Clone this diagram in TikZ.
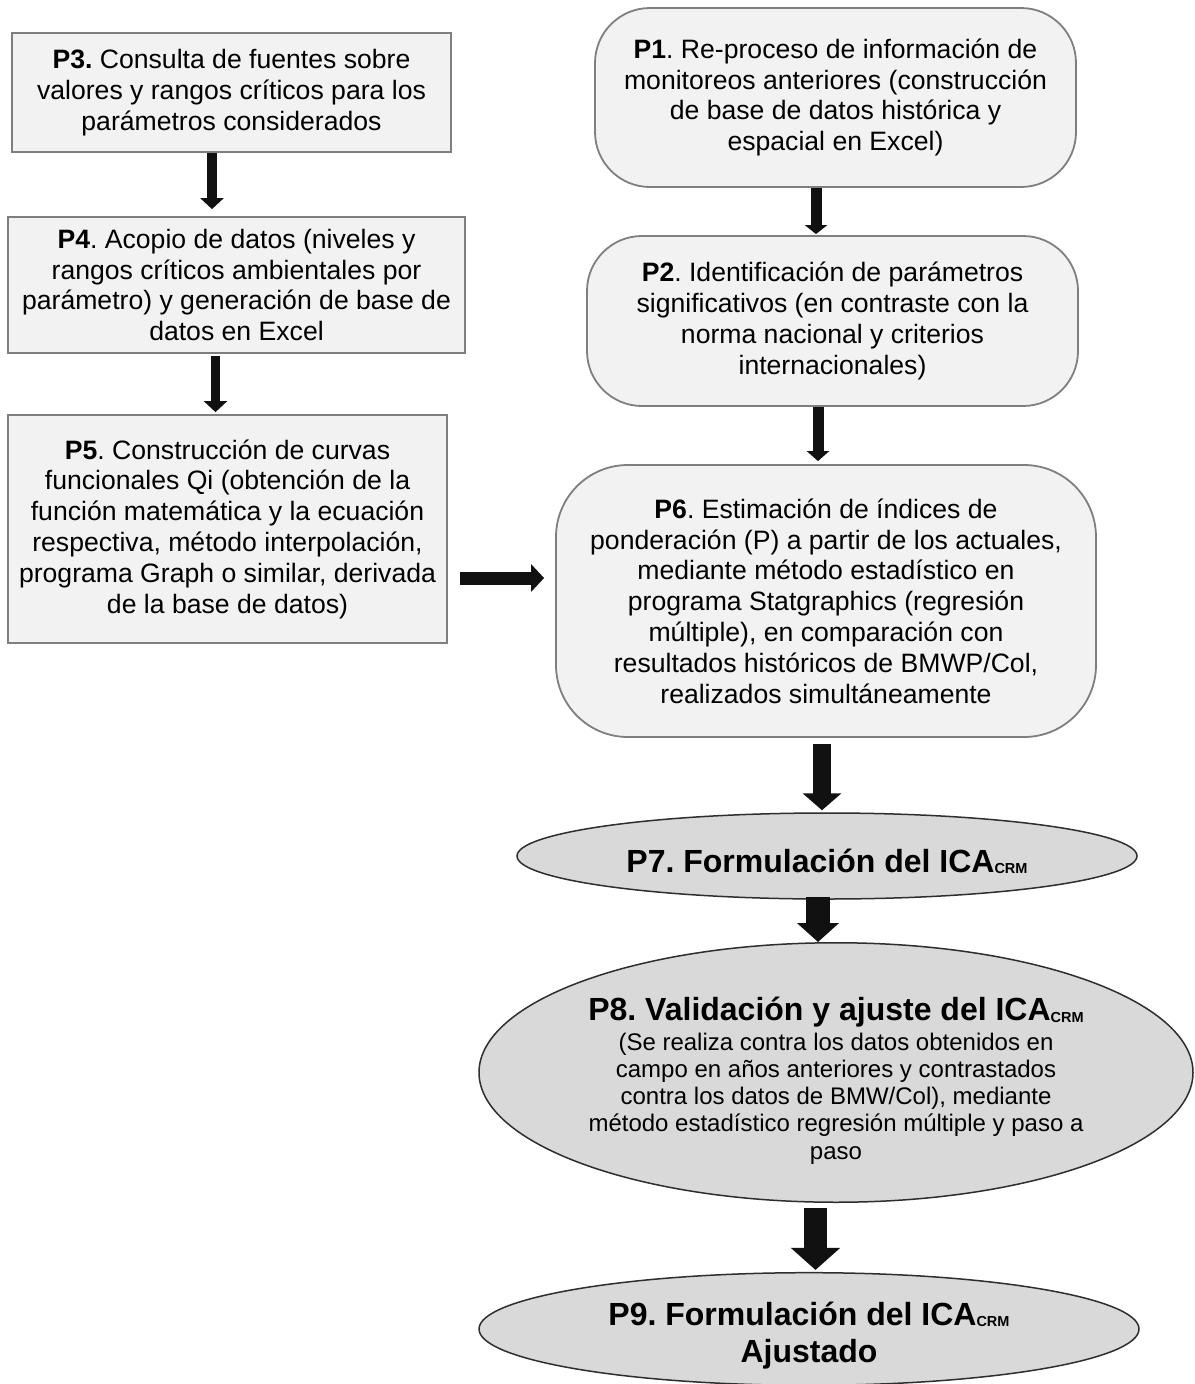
\documentclass[tikz,border=0pt]{standalone}
\usepackage{fontspec}
\setmainfont{Liberation Sans}
\usetikzlibrary{shapes.geometric,arrows.meta}
\definecolor{boxfill}{HTML}{F2F2F2}
\definecolor{boxline}{HTML}{7F7F7F}
\definecolor{ellfill}{HTML}{D9D9D9}
\definecolor{ellline}{HTML}{2E2E2E}
\definecolor{arr}{HTML}{111111}
\newcommand{\crm}{\raisebox{-1.5pt}{\fontsize{14.5}{14.5}\selectfont CRM}}
\frenchspacing
\tikzset{
  sqbox/.style={draw=boxline, line width=1.8pt, fill=boxfill, rectangle, align=center, inner sep=0pt,
    font=\fontsize{26.6}{30.8}\selectfont},
  rdbox/.style={sqbox, rounded corners=55pt},
  ellbox/.style={draw=ellline, line width=1.5pt, fill=ellfill, ellipse, align=center, inner sep=0pt},
  titlefont/.style={font=\fontsize{32}{37}\selectfont\bfseries},
}
\begin{document}
\begin{tikzpicture}[x=1pt,y=-1pt]
\useasboundingbox[fill=white] (0,0) rectangle (1194,1384);
\coordinate (harr) at (0,578);
% left column
\node[sqbox, minimum width=439pt, minimum height=119pt] (p3) at (231.5,92.5)
  {\textbf{P3.} Consulta de fuentes sobre\\valores y rangos críticos para los\\parámetros considerados};
\node[sqbox, minimum width=457pt, minimum height=136pt] (p4) at (236.5,285)
  {\textbf{P4}. Acopio de datos (niveles y\\rangos críticos ambientales por\\parámetro) y generación de base de\\datos en Excel};
\node[sqbox, minimum width=439pt, minimum height=228pt] (p5) at (227.5,529)
  {\textbf{P5}. Construcción de curvas\\funcionales Qi (obtención de la\\función matemática y la ecuación\\respectiva, método interpolación,\\programa Graph o similar, derivada\\de la base de datos)};
% right column
\node[rdbox, minimum width=481pt, minimum height=179pt] (p1) at (835.5,97.5)
  {\textbf{P1}. Re-proceso de información de\\monitoreos anteriores (construcción\\de base de datos histórica y\\espacial en Excel)};
\node[rdbox, minimum width=491pt, minimum height=170pt] (p2) at (832.5,321)
  {\textbf{P2}. Identificación de parámetros\\significativos (en contraste con la\\norma nacional y criterios\\internacionales)};
\node[rdbox, rounded corners=72pt, minimum width=540pt, minimum height=272pt] (p6) at (826,601)
  {\textbf{P6}. Estimación de índices de\\ponderación (P) a partir de los actuales,\\mediante método estadístico en\\programa Statgraphics (regresión\\múltiple), en comparación con\\resultados históricos de BMWP/Col,\\realizados simultáneamente};
% ellipses
\node[ellbox, titlefont, minimum width=620pt, minimum height=86pt] (p7) at (827,856)
  {\rule{0pt}{34pt}P7. Formulación del ICA\crm};
\node[ellbox, font=\fontsize{24}{27.3}\selectfont, minimum width=714pt, minimum height=249pt] (p8) at (836,1072.5)
  {{\fontsize{32}{37}\selectfont\bfseries\rule{0pt}{40pt}P8. Validación y ajuste del ICA\crm}\\[2pt]
   (Se realiza contra los datos obtenidos en\\campo en años anteriores y contrastados\\contra los datos de BMW/Col), mediante\\método estadístico regresión múltiple y paso a\\paso};
\node[ellbox, titlefont, minimum width=660pt, minimum height=110pt] (p9) at (809,1329)
  {\rule{0pt}{36pt}P9. Formulación del ICA\crm\\Ajustado};
% connectors
\draw[draw=arr, line width=10pt, -{Triangle[width=23pt,length=11pt]}, shorten >=7pt]
  (p3.south -| 212,0) -- (p4.north -| 212,0);
\draw[draw=arr, line width=9.5pt, -{Triangle[width=23pt,length=11pt]}, shorten <=2pt, shorten >=2pt]
  (p4.south -| 215.5,0) -- (p5.north -| 215.5,0);
\draw[draw=arr, line width=11pt, -{Triangle[width=22pt,length=9pt]}, shorten >=1pt]
  (p1.south -| 816,0) -- (p2.north -| 816,0);
\draw[draw=arr, line width=11pt, -{Triangle[width=22pt,length=10pt]}, shorten >=3pt]
  (p2.south -| 818,0) -- (p6.north -| 818,0);
\draw[draw=arr, line width=13pt, -{Triangle[width=27pt,length=13pt]}, shorten <=12pt, shorten >=11pt]
  (p5.east |- harr) -- (p6.west |- harr);
\draw[draw=arr, line width=18pt, -{Triangle[width=38pt,length=17pt]}, shorten <=6pt, shorten >=2pt]
  (p6.south -| 822,0) -- (p7.north -| 822,0);
\draw[draw=arr, line width=24pt, -{Triangle[width=41pt,length=19pt]}, shorten <=-3pt, shorten >=0pt]
  (p7.south -| 818,0) -- (p8.north -| 818,0);
\draw[draw=arr, line width=23pt, -{Triangle[width=48pt,length=22pt]}, shorten <=5pt, shorten >=2pt]
  (p8.south -| 815.5,0) -- (p9.north -| 815.5,0);
\end{tikzpicture}
\end{document}
